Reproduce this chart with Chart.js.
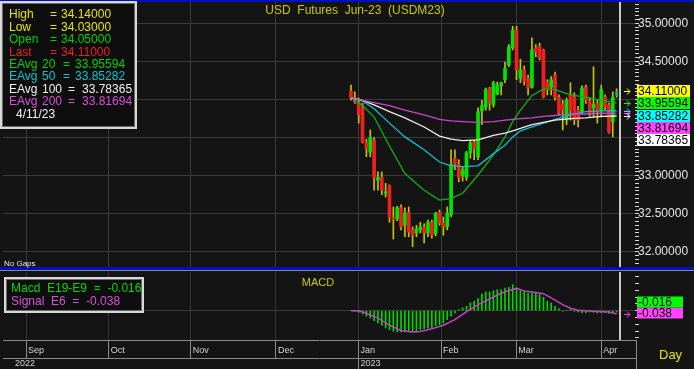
<!DOCTYPE html>
<html><head><meta charset="utf-8">
<script src="https://cdn.jsdelivr.net/npm/chart.js@4.4.1/dist/chart.umd.min.js"></script>
<style>
html,body{margin:0;padding:0;background:#141414;overflow:hidden;}
#wrap{position:relative;width:694px;height:369px;background:#141414;}
#c1{position:absolute;left:0;top:0;}
#c2{position:absolute;left:0;top:270px;}
</style></head><body>
<div id="wrap">
<canvas id="c1" width="694" height="270"></canvas>
<canvas id="c2" width="694" height="99"></canvas>
</div>
<script>
// ---------- DATA ----------
const openP  = [34.11,34.02,33.96,33.89,33.44,33.31,33.47,32.94,32.98,32.77,32.87,32.45,32.43,32.58,32.35,32.52,32.29,32.25,32.29,32.33,32.25,32.39,32.24,32.52,32.38,32.33,32.49,33.23,33.15,33.00,32.98,33.30,33.44,33.25,33.85,33.90,34.15,33.93,34.07,34.18,34.26,34.45,34.68,34.91,34.28,34.39,34.28,34.16,34.68,34.70,34.65,34.23,34.16,34.32,34.03,33.94,33.73,34.06,34.03,33.86,33.84,34.16,33.98,33.89,33.95,33.86,34.03,33.93,33.71,34.05];
const highP  = [34.19,34.10,34.02,33.95,33.48,33.60,33.50,33.05,33.05,32.90,32.88,32.59,32.60,32.62,32.58,32.59,32.33,32.35,32.39,32.37,32.42,32.42,32.52,32.55,32.46,32.59,33.34,33.34,33.21,33.11,33.32,33.47,33.47,33.89,33.99,34.15,34.16,34.24,34.23,34.23,34.49,34.72,34.96,34.96,34.53,34.44,34.32,34.81,34.72,34.74,34.66,34.26,34.30,34.36,34.06,33.99,34.02,34.22,34.09,33.91,34.18,34.19,34.02,34.43,33.99,34.19,34.06,33.95,34.10,34.14];
const lowP   = [33.99,33.95,33.69,33.43,33.25,33.25,32.81,32.81,32.75,32.72,32.39,32.17,32.41,32.29,32.20,32.20,32.07,32.20,32.25,32.12,32.20,32.18,32.21,32.35,32.22,32.29,32.46,33.08,32.92,32.93,32.94,33.23,33.21,33.21,33.67,33.86,33.86,33.90,34.06,34.06,34.22,34.43,34.65,34.26,34.22,34.19,34.06,34.15,34.56,34.52,34.02,34.06,34.06,33.99,33.80,33.60,33.67,33.73,33.67,33.64,33.81,33.95,33.78,33.77,33.69,33.77,33.86,33.56,33.51,34.03];
const closeP = [34.02,33.97,33.80,33.44,33.36,33.50,32.97,32.98,32.81,32.79,32.45,32.43,32.58,32.33,32.51,32.26,32.22,32.30,32.33,32.25,32.39,32.22,32.51,32.38,32.33,32.51,33.15,33.15,32.97,33.08,33.30,33.43,33.36,33.84,33.92,34.13,33.95,34.22,34.18,34.22,34.41,34.69,34.91,34.39,34.39,34.24,34.15,34.65,34.62,34.54,34.03,34.13,34.26,34.03,33.82,33.86,33.99,33.86,33.73,33.73,34.15,33.99,33.82,33.94,33.84,34.13,33.90,33.57,34.03,34.11];
const lastDate = '4/11/23';

// moving averages, read at these bar indices
const emaIdx = [0,3,6,10,14,19,23,26,29,33,37,40,42,44,47,50,53,57,61,65,69];
const ema20  = [34.02,33.92,33.77,33.39,33.03,32.81,32.68,32.70,32.77,33.01,33.27,33.51,33.71,33.86,34.05,34.14,34.13,34.06,34.03,33.99,33.95594];
const ema50  = [34.02,33.98,33.88,33.69,33.51,33.34,33.18,33.13,33.12,33.13,33.29,33.40,33.51,33.59,33.64,33.69,33.74,33.80,33.84,33.85,33.85282];
const ema100 = [34.02,33.99,33.93,33.84,33.76,33.64,33.52,33.48,33.46,33.47,33.53,33.56,33.59,33.62,33.67,33.70,33.73,33.75,33.76,33.78,33.78365];
const ema200 = [34.02,33.99,33.96,33.92,33.86,33.80,33.74,33.72,33.71,33.70,33.71,33.73,33.74,33.75,33.76,33.78,33.79,33.81,33.81,33.82,33.81694];

// MACD histogram (one per bar) and signal line
const macdHist = [0,-0.005,-0.02,-0.039,-0.066,-0.086,-0.117,-0.145,-0.172,-0.203,
 -0.223,-0.243,-0.250,-0.250,-0.250,-0.243,-0.243,-0.235,-0.223,-0.211,
 -0.203,-0.196,-0.176,-0.164,-0.145,-0.105,-0.066,-0.027,0.012,0.032,
 0.051,0.091,0.110,0.142,0.196,0.220,0.220,0.236,0.247,0.247,
 0.267,0.275,0.306,0.267,0.236,0.228,0.208,0.208,0.208,0.189,
 0.157,0.110,0.091,0.051,0.024,-0.007,0.000,0.012,-0.007,-0.015,
 -0.023,-0.023,-0.015,-0.019,-0.027,-0.023,-0.023,-0.031,-0.023,-0.016];
const sigIdx  = [0,2,4,7,10,13,16,18,21,24,27,30,33,36,39,41,43,45,47,50,52,55,57,59,63,67,69];
const sigVals = [0,0,-0.03,-0.087,-0.172,-0.233,-0.250,-0.245,-0.212,-0.172,-0.105,-0.01,0.071,0.137,0.205,0.238,0.262,0.233,0.220,0.200,0.150,0.072,0.028,0.004,-0.007,-0.017,-0.038];

// time axis (bar-index positions of month starts) and labels
const monthPos    = [-84.4,-62.9,-41.6,-19.5,1.95,23.4,42.9,65.0];
const monthLabels = ['Sep','Oct','Nov','Dec','Jan','Feb','Mar','Apr'];
const yearPos     = [-87.8,1.95];
const yearLabels  = ['2022','2023'];

// price axis
const priceGrid    = [32.0,32.5,33.0,33.5,34.0,34.5,35.0];
const priceLabeled = [32.0,32.5,33.0,34.5,35.0];

// ---------- view settings ----------
const X_MIN = -90.39, X_MAX = 73.77;
const P_MIN = 31.79, P_MAX = 35.279;
const M_MIN = -0.345, M_MAX = 0.455;
const NEXT_BAR = closeP.length;
const FONT = '"Liberation Sans", Arial, Helvetica, sans-serif';
Chart.defaults.font.family = FONT;

const last = closeP.length - 1;
const barIdx = closeP.map((_, i) => i);
const isUp = barIdx.map(i => closeP[i] >= openP[i]);
const pts = (xs, ys) => xs.map((x, k) => ({x, y: ys[k]}));
const near = (v, list) => list.some(p => Math.abs(p - v) < 1e-6);

function arrow(ctx, x, y, color) {
  ctx.strokeStyle = color; ctx.lineWidth = 1;
  ctx.beginPath();
  ctx.moveTo(x, y + 0.5); ctx.lineTo(x + 6, y + 0.5);
  ctx.moveTo(x + 3, y - 2.5); ctx.lineTo(x + 6, y + 0.5); ctx.lineTo(x + 3, y + 3.5);
  ctx.stroke();
}
function frameBox(ctx, x, y, w, h) {
  ctx.fillStyle = '#0e0e0e'; ctx.fillRect(x, y, w, h);
  ctx.strokeStyle = '#d8d8d8'; ctx.lineWidth = 2; ctx.strokeRect(x + 1, y + 1, w - 2, h - 2);
  ctx.strokeStyle = '#6a6a6a'; ctx.lineWidth = 1; ctx.strokeRect(x + 2.5, y + 2.5, w - 5, h - 5);
}
function currentLine(chart) {
  const ctx = chart.ctx, a = chart.chartArea;
  const x = Math.round(chart.scales.x.getPixelForValue(NEXT_BAR));
  ctx.fillStyle = '#c8c8c8'; ctx.fillRect(x - 1, a.top, 2, a.bottom - a.top);
}
const noVertPad = s => { s.width = 59; s.paddingTop = 0; s.paddingBottom = 0; };

const mainOverlay = {
  id: 'mainOverlay',
  afterDraw(chart) {
    const ctx = chart.ctx, ys = chart.scales.y;
    ctx.save();
    currentLine(chart);
    ctx.fillStyle = '#0010c0';
    ctx.fillRect(0, 0, 694, 2); ctx.fillRect(0, 267, 694, 3);
    ctx.fillStyle = '#c8c800'; ctx.font = '12px ' + FONT;
    ctx.textAlign = 'center'; ctx.textBaseline = 'middle';
    ctx.fillText('USD  Futures  Jun-23  (USDM23)', 355, 11);
    ctx.textAlign = 'left';
    ctx.fillStyle = '#e8e8e8'; ctx.font = '8px ' + FONT;
    ctx.fillText('No Gaps', 4, 264);
    frameBox(ctx, 0, 1, 137, 128);
    ctx.font = '12px ' + FONT;
    const rows = [
      ['High', '', highP[last].toFixed(5), '#e6e600', 50, 61],
      ['Low', '', lowP[last].toFixed(5), '#e6e600', 50, 61],
      ['Open', '', openP[last].toFixed(5), '#00d000', 50, 61],
      ['Last', '', closeP[last].toFixed(5), '#e82020', 50, 61],
      ['EAvg', '20', ema20[ema20.length-1].toFixed(5), '#00d000', 63, 75],
      ['EAvg', '50', ema50[ema50.length-1].toFixed(5), '#00c8d0', 63, 75],
      ['EAvg', '100', ema100[ema100.length-1].toFixed(5), '#f0f0f0', 68, 82],
      ['EAvg', '200', ema200[ema200.length-1].toFixed(5), '#d850d8', 68, 82]
    ];
    rows.forEach((r, k) => {
      const y = 15 + k * 12.4;
      ctx.fillStyle = r[3];
      ctx.fillText(r[0], 9, y);
      if (r[1]) ctx.fillText(r[1], 42, y);
      ctx.fillText('=', r[4], y);
      ctx.fillText(r[2], r[5], y);
    });
    ctx.fillStyle = '#f0f0f0';
    ctx.fillText(lastDate, 16, 115);
    const vb = [
      [closeP[last], '#ffff00'],
      [ema20[ema20.length-1], '#00ff00'],
      [ema50[ema50.length-1], '#00ffff'],
      [ema200[ema200.length-1], '#ff44ff'],
      [ema100[ema100.length-1], '#ffffff']
    ].map(v => ({v: v[0], c: v[1], py: ys.getPixelForValue(v[0])}))
     .sort((a, b) => a.py - b.py);
    let prev = -1e9;
    vb.forEach(b => {
      arrow(ctx, 624, Math.round(b.py), b.c);
      const cy = Math.max(b.py, prev + 12.3); prev = cy;
      ctx.fillStyle = b.c; ctx.fillRect(637, Math.round(cy - 6), 53, 12);
      ctx.fillStyle = '#000'; ctx.fillText(b.v.toFixed(5), 638, Math.round(cy) + 0.5);
    });
    ctx.restore();
  }
};

const subOverlay = {
  id: 'subOverlay',
  afterDraw(chart) {
    const ctx = chart.ctx, ys = chart.scales.y;
    ctx.save();
    currentLine(chart);
    ctx.fillStyle = '#8a8a8a';
    ctx.fillRect(0, 0, 694, 1);
    ctx.fillRect(636, 70, 1, 29);
    ctx.textBaseline = 'middle'; ctx.textAlign = 'center';
    ctx.fillStyle = '#c8c800'; ctx.font = '11px ' + FONT;
    ctx.fillText('MACD', 318, 13);
    ctx.textAlign = 'left';
    frameBox(ctx, 4, 7, 140, 36);
    ctx.font = '12px ' + FONT;
    ctx.fillStyle = '#00d800';
    ctx.fillText('Macd  E19-E9  =  ' + macdHist[last].toFixed(3), 11, 19);
    ctx.fillStyle = '#d850d8';
    ctx.fillText('Signal  E6  =  ' + sigVals[sigVals.length-1].toFixed(3), 11, 32);
    const sp = ys.getPixelForValue(sigVals[sigVals.length-1]);
    arrow(ctx, 624, Math.round(sp), '#d850d8');
    const magC = Math.round(sp) - 1, grnC = magC - 11;
    ctx.fillStyle = '#ff44ff'; ctx.fillRect(637, magC - 5.5, 46, 11);
    ctx.fillStyle = '#00ff00'; ctx.fillRect(637, grnC - 5.5, 46, 11);
    ctx.fillStyle = '#000';
    ctx.fillText(sigVals[sigVals.length-1].toFixed(3), 638, magC + 0.5);
    ctx.fillText(macdHist[last].toFixed(3), 638, grnC + 0.5);
    ctx.fillStyle = '#e6e600'; ctx.font = '13px ' + FONT;
    ctx.fillText('Day', 659, 85);
    ctx.restore();
  }
};

const xHidden = {
  type: 'linear', min: X_MIN, max: X_MAX, offset: false, bounds: 'data',
  afterBuildTicks: s => { s.ticks = monthPos.map(v => ({value: v})); },
  afterFit: s => { s.height = 0; s.paddingLeft = 0; s.paddingRight = 0; },
  ticks: {display: false},
  grid: {color: '#3a3a3a', drawTicks: false, offset: false},
  border: {display: false}
};

new Chart(document.getElementById('c1'), {
  type: 'bar',
  data: {datasets: [
    {type: 'line', data: pts(emaIdx, ema200), borderColor: '#c848c8', borderWidth: 1.3, pointRadius: 0, order: 0},
    {type: 'line', data: pts(emaIdx, ema100), borderColor: '#eeeeee', borderWidth: 1.3, pointRadius: 0, order: 0},
    {type: 'line', data: pts(emaIdx, ema50),  borderColor: '#10c0d0', borderWidth: 1.3, pointRadius: 0, order: 0},
    {type: 'line', data: pts(emaIdx, ema20),  borderColor: '#10b010', borderWidth: 1.3, pointRadius: 0, order: 0},
    {data: barIdx.map(i => ({x: i, y: [openP[i], closeP[i]]})),
     backgroundColor: isUp.map(u => u ? '#00e400' : '#f02020'),
     borderColor: barIdx.map(i => i === last ? '#3050ff' : 'rgba(0,0,0,0)'),
     borderWidth: barIdx.map(i => i === last ? 1 : 0),
     barThickness: 3, minBarLength: 1, grouped: false, order: 1},
    {data: barIdx.map(i => ({x: i, y: [lowP[i], highP[i]]})),
     backgroundColor: '#c4c400', barThickness: 1, grouped: false, order: 2}
  ]},
  options: {
    responsive: false, animation: false, events: [],
    layout: {padding: {left: 3, top: 2, right: 0, bottom: 2}},
    plugins: {legend: {display: false}, tooltip: {enabled: false}},
    scales: {
      x: xHidden,
      y: {
        position: 'right', min: P_MIN, max: P_MAX, beginAtZero: false, bounds: 'data',
        afterBuildTicks: s => {
          const t = [];
          for (let k = Math.ceil(P_MIN * 20); k <= Math.floor(P_MAX * 20); k++) t.push({value: Math.round(k * 5) / 100});
          s.ticks = t;
        },
        afterFit: noVertPad,
        grid: {
          color: c => near(c.tick.value, priceGrid) ? '#3a3a3a' : 'rgba(0,0,0,0)',
          tickColor: '#d8d8d8', tickLength: 4
        },
        border: {display: false},
        ticks: {
          autoSkip: false, padding: -1, color: '#e4e4e4', font: {size: 12},
          callback: v => near(v, priceLabeled) ? v.toFixed(5) : ''
        }
      }
    }
  },
  plugins: [mainOverlay]
});

new Chart(document.getElementById('c2'), {
  type: 'bar',
  data: {datasets: [
    {type: 'line', data: pts(sigIdx, sigVals), borderColor: '#c840c8', borderWidth: 1.5, pointRadius: 0, order: 0},
    {data: macdHist.map((v, i) => ({x: i, y: v})), backgroundColor: '#00d800', barThickness: 1, grouped: false, order: 1}
  ]},
  options: {
    responsive: false, animation: false, events: [],
    layout: {padding: {left: 3, top: 2, right: 0, bottom: 0}},
    plugins: {legend: {display: false}, tooltip: {enabled: false}},
    scales: {
      x: {
        type: 'linear', position: 'bottom', min: X_MIN, max: X_MAX, offset: false, bounds: 'data', weight: 0,
        afterBuildTicks: s => { s.ticks = monthPos.map(v => ({value: v})); },
        afterFit: s => { s.height = 18; s.paddingLeft = 0; s.paddingRight = 0; },
        grid: {color: '#333333', tickColor: '#8a8a8a', tickLength: 18, offset: false},
        border: {display: true, color: '#8a8a8a'},
        ticks: {autoSkip: false, maxRotation: 0, align: 'start', padding: -13, labelOffset: 2,
                color: '#d4d4d4', font: {size: 9}, callback: (v, i) => monthLabels[i]}
      },
      x2: {
        type: 'linear', position: 'bottom', min: X_MIN, max: X_MAX, offset: false, bounds: 'data', weight: 1,
        afterBuildTicks: s => { s.ticks = yearPos.map(v => ({value: v})); },
        afterFit: s => { s.height = 11; s.paddingLeft = 0; s.paddingRight = 0; },
        grid: {drawOnChartArea: false, tickLength: 11, offset: false,
               tickColor: c => c.index === 1 ? '#8a8a8a' : 'rgba(0,0,0,0)'},
        border: {display: true, color: '#8a8a8a'},
        ticks: {autoSkip: false, maxRotation: 0, align: 'start', padding: -11, labelOffset: 2,
                color: '#d4d4d4', font: {size: 9}, callback: (v, i) => yearLabels[i]}
      },
      y: {
        position: 'right', min: M_MIN, max: M_MAX, beginAtZero: false, bounds: 'data',
        afterBuildTicks: s => { const t = []; for (let k = -4; k <= 5; k++) t.push({value: Math.round(k * 8) / 100}); s.ticks = t; },
        afterFit: noVertPad,
        grid: {color: c => Math.abs(c.tick.value) < 1e-9 ? '#3a3a3a' : 'rgba(0,0,0,0)', tickColor: '#d8d8d8', tickLength: 4},
        border: {display: false},
        ticks: {autoSkip: false, callback: () => ''}
      }
    }
  },
  plugins: [subOverlay]
});
</script>
</body></html>
